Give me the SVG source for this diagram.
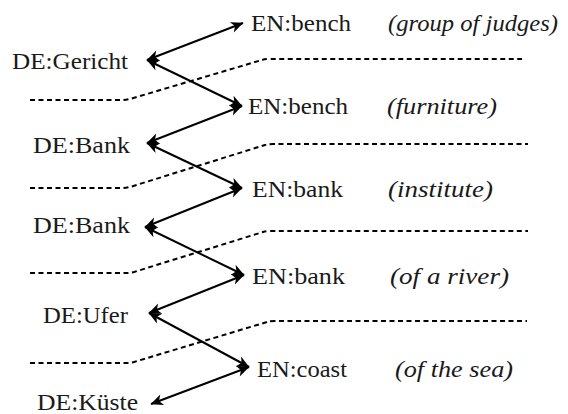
<svg xmlns="http://www.w3.org/2000/svg" width="568" height="414" viewBox="0 0 568 414">
<style>
.t{font-family:"Liberation Serif","Times New Roman",serif;font-size:24px;fill:#1a1a1a}
.i{font-family:"Liberation Serif","Times New Roman",serif;font-size:23px;font-style:italic;fill:#1a1a1a}
.a{stroke:#000;stroke-width:2;fill:none;marker-start:url(#st);marker-end:url(#st)}
.d{stroke:#000;stroke-width:2;fill:none;stroke-dasharray:5 3.5}
</style>
<defs>
<marker id="st" viewBox="-14 -7 15 14" refX="0" refY="0" markerWidth="15" markerHeight="14" markerUnits="userSpaceOnUse" orient="auto-start-reverse">
<path d="M0.5,0 L-12,-5.5 L-8.5,0 L-12,5.5 Z" fill="#000"/>
</marker>
</defs>
<rect width="568" height="414" fill="#fff"/>
<g id="separators">
<path class="d" d="M30,100 H122 Q126,100 130,99 L262,60 Q265,59 270,59 H522"/>
<path class="d" d="M30,188 H122 Q126,188 130,187 L265,145 Q268,144 273,144 H528"/>
<path class="d" d="M30,273 H126 Q130,273 134,272 L263,232 Q266,231 271,231 H528"/>
<path class="d" d="M30,363 H126 Q130,363 134,362 L267,322 Q270,321 275,321 H527"/>
</g>
<g id="connectors">
<line class="a" x1="147" y1="60" x2="243" y2="23"/>
<line class="a" x1="147" y1="60" x2="242" y2="106"/>
<line class="a" x1="147" y1="143" x2="242" y2="106"/>
<line class="a" x1="147" y1="143" x2="242" y2="188"/>
<line class="a" x1="145" y1="227" x2="242" y2="188"/>
<line class="a" x1="145" y1="227" x2="244" y2="275"/>
<line class="a" x1="149" y1="313" x2="244" y2="275"/>
<line class="a" x1="149" y1="313" x2="249" y2="367"/>
<line class="a" x1="151" y1="404" x2="249" y2="367"/>
</g>
<g id="de-gericht"><text class="t" x="12" y="69" textLength="116" lengthAdjust="spacingAndGlyphs">DE:Gericht</text></g>
<g id="de-bank-1"><text class="t" x="33" y="153" textLength="97" lengthAdjust="spacingAndGlyphs">DE:Bank</text></g>
<g id="de-bank-2"><text class="t" x="33" y="233" textLength="97" lengthAdjust="spacingAndGlyphs">DE:Bank</text></g>
<g id="de-ufer"><text class="t" x="43" y="323" textLength="85" lengthAdjust="spacingAndGlyphs">DE:Ufer</text></g>
<g id="de-kueste"><text class="t" x="37" y="410" textLength="101" lengthAdjust="spacingAndGlyphs">DE:Küste</text></g>
<g id="en-bench-1"><text class="t" x="251" y="31" textLength="100" lengthAdjust="spacingAndGlyphs">EN:bench</text><text class="i" x="388" y="31" textLength="170" lengthAdjust="spacingAndGlyphs">(group of judges)</text></g>
<g id="en-bench-2"><text class="t" x="248" y="114" textLength="100" lengthAdjust="spacingAndGlyphs">EN:bench</text><text class="i" x="387" y="114" textLength="110" lengthAdjust="spacingAndGlyphs">(furniture)</text></g>
<g id="en-bank-1"><text class="t" x="252" y="197" textLength="91" lengthAdjust="spacingAndGlyphs">EN:bank</text><text class="i" x="388" y="197" textLength="105" lengthAdjust="spacingAndGlyphs">(institute)</text></g>
<g id="en-bank-2"><text class="t" x="252" y="284" textLength="93" lengthAdjust="spacingAndGlyphs">EN:bank</text><text class="i" x="390" y="284" textLength="119" lengthAdjust="spacingAndGlyphs">(of a river)</text></g>
<g id="en-coast"><text class="t" x="257" y="377" textLength="90" lengthAdjust="spacingAndGlyphs">EN:coast</text><text class="i" x="395" y="377" textLength="118" lengthAdjust="spacingAndGlyphs">(of the sea)</text></g>
</svg>
